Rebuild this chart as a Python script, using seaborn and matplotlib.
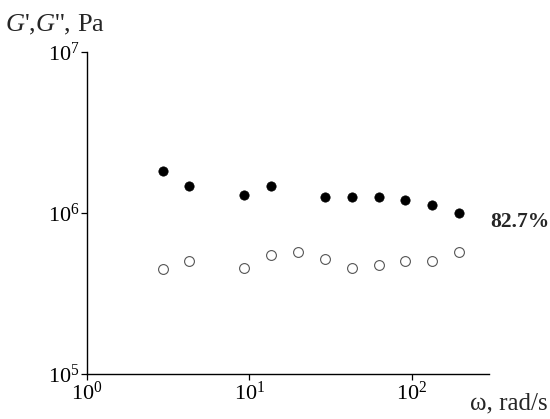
import matplotlib
matplotlib.use("Agg")
import matplotlib.pyplot as plt
import seaborn as sns
import pandas as pd
import numpy as np
from matplotlib.ticker import NullLocator

# data
omega_storage = [2.94, 4.24, 9.25, 13.6, 29.2, 42.7, 62.7, 91.8, 133, 195]
g_storage = [1.82e6, 1.47e6, 1.29e6, 1.47e6, 1.26e6, 1.26e6, 1.25e6, 1.20e6, 1.12e6, 1.0e6]
omega_loss = [2.94, 4.24, 9.25, 13.6, 19.9, 29.2, 42.7, 62.7, 91.8, 133, 195]
g_loss = [4.49e5, 5.04e5, 4.55e5, 5.48e5, 5.72e5, 5.18e5, 4.55e5, 4.76e5, 5.04e5, 5.04e5, 5.72e5]
x_ticks = [1, 10, 100]
x_tick_labels = [r"$10^0$", r"$10^1$", r"$10^2$"]
y_ticks = [1e5, 1e6, 1e7]
y_tick_labels = [r"$10^5$", r"$10^6$", r"$10^7$"]
annotation = "82.7%"

sns.set_style("ticks")
plt.rcParams["font.family"] = ["Liberation Serif", "DejaVu Serif"]
plt.rcParams["mathtext.fontset"] = "custom"
plt.rcParams["mathtext.rm"] = "Liberation Serif"
plt.rcParams["mathtext.it"] = "Liberation Serif:italic"
plt.rcParams["mathtext.bf"] = "Liberation Serif:bold"

df_s = pd.DataFrame({"omega": omega_storage, "G": g_storage})
df_l = pd.DataFrame({"omega": omega_loss, "G": g_loss})

fig = plt.figure(figsize=(5.5, 4.19), dpi=100)
ax = fig.add_axes([0.158, 0.1074, 0.731, 0.7685])

sns.scatterplot(data=df_s, x="omega", y="G", ax=ax, s=45, color="black",
                edgecolor="black", linewidth=0.5, zorder=3)
sns.scatterplot(data=df_l, x="omega", y="G", ax=ax, s=50, facecolor="white",
                edgecolor="#555555", linewidth=0.8, zorder=3)

ax.set_xscale("log")
ax.set_yscale("log")
ax.set_xlim(1, 300)
ax.set_ylim(1e5, 1e7)
ax.set_xticks(x_ticks)
ax.set_xticklabels(x_tick_labels)
ax.set_yticks(y_ticks)
ax.set_yticklabels(y_tick_labels)
ax.xaxis.set_minor_locator(NullLocator())
ax.yaxis.set_minor_locator(NullLocator())
ax.set_xlabel("")
ax.set_ylabel("")
for side in ["top", "right"]:
    ax.spines[side].set_visible(False)
for side in ["left", "bottom"]:
    ax.spines[side].set_linewidth(1.0)
    ax.spines[side].set_color("black")
ax.tick_params(axis="both", which="major", length=4, width=0.9, direction="out",
               labelsize=16, colors="black", pad=1.5)

ax.text(1.003, (np.log10(0.88e6) - 5) / 2, annotation, transform=ax.transAxes,
        fontsize=15.5, fontweight="bold", ha="left", va="center")

fig.text(0.009, 0.924, r"$G$',$G$'', Pa", fontsize=19, ha="left", va="baseline")
fig.text(0.855, 0.022, "ω, rad/s", fontsize=18, ha="left", va="baseline")

fig.savefig("out.png", dpi=100)
